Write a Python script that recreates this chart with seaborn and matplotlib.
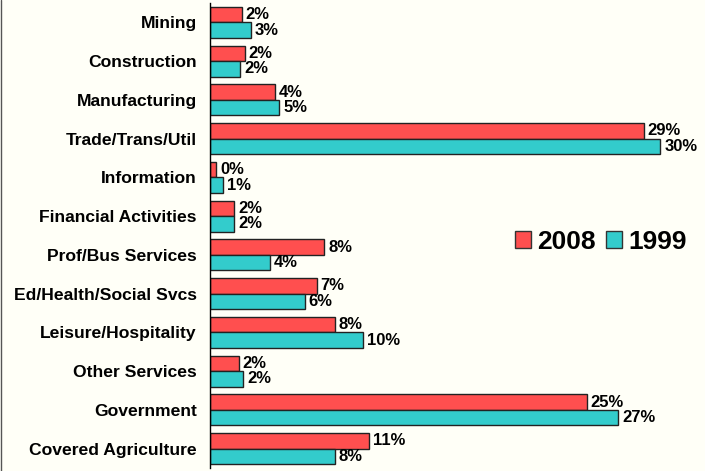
import matplotlib
matplotlib.use("Agg")
import matplotlib.pyplot as plt
import seaborn as sns
import pandas as pd
import numpy as np
from matplotlib.lines import Line2D

categories = ["Mining", "Construction", "Manufacturing", "Trade/Trans/Util",
              "Information", "Financial Activities", "Prof/Bus Services",
              "Ed/Health/Social Svcs", "Leisure/Hospitality", "Other Services",
              "Government", "Covered Agriculture"]
share_2008 = [2.1, 2.3, 4.3, 28.9, 0.4, 1.6, 7.6, 7.1, 8.3, 1.9, 25.1, 10.6]
share_1999 = [2.7, 2.0, 4.6, 30.0, 0.85, 1.6, 4.0, 6.3, 10.2, 2.2, 27.2, 8.3]
years = ["2008", "1999"]

df = pd.DataFrame({
    "category": categories * 2,
    "share": share_2008 + share_1999,
    "year": ["2008"] * len(categories) + ["1999"] * len(categories),
})

sns.set_theme(style="white")
plt.rcParams["font.family"] = ["Liberation Sans", "DejaVu Sans"]
plt.rcParams["text.color"] = "black"
bg = "#FFFFF7"

fig = plt.figure(figsize=(7.05, 4.71), dpi=100, facecolor=bg)
ax = fig.add_axes([210 / 705, 3 / 471, 1 - 210 / 705, 465 / 471])
ax.set_facecolor(bg)

sns.barplot(data=df, y="category", x="share", hue="year", hue_order=years,
            order=categories, orient="h",
            palette={"2008": "#FF4F4F", "1999": "#33CCCC"},
            edgecolor="#222222", linewidth=1.0, width=0.8, saturation=1,
            ax=ax)

for cont in ax.containers:
    ax.bar_label(cont, labels=[f"{v:.0f}%" for v in cont.datavalues],
                 padding=3, fontsize=12, fontweight="bold", color="black")

ax.set_xlim(0, 33)
ax.set_ylim(len(categories) - 0.5, -0.5)
ax.set_xlabel("")
ax.set_ylabel("")
ax.set_xticks([])
ax.tick_params(axis="y", which="major", length=0, pad=9.5, labelsize=12.6)
for lab in ax.get_yticklabels():
    lab.set_fontweight("bold")
    lab.set_color("black")
ax.set_yticks(np.arange(-0.5, len(categories), 1), minor=True)
ax.tick_params(axis="y", which="minor", length=3, width=1, color="black", direction="out")

for s in ["top", "right", "bottom"]:
    ax.spines[s].set_visible(False)
ax.spines["left"].set_color("black")
ax.spines["left"].set_linewidth(1.0)

leg = ax.legend(loc="center left", bbox_to_anchor=(305 / 495, 0.5 - (242 - 235.5) / 465),
                ncol=2, frameon=False, prop={"weight": "bold", "size": 19},
                handlelength=0.62, handleheight=0.62, handletextpad=0.22,
                columnspacing=0.38, borderpad=0, borderaxespad=0)
for t in leg.get_texts():
    t.set_color("black")
for h in leg.legend_handles:
    h.set_edgecolor("#333333")
    h.set_linewidth(1.0)

fig.add_artist(Line2D([0.5 / 705, 0.5 / 705], [0, 1], transform=fig.transFigure,
                      color="#555555", linewidth=1.0))

fig.savefig("out.png", dpi=100, facecolor=bg)
